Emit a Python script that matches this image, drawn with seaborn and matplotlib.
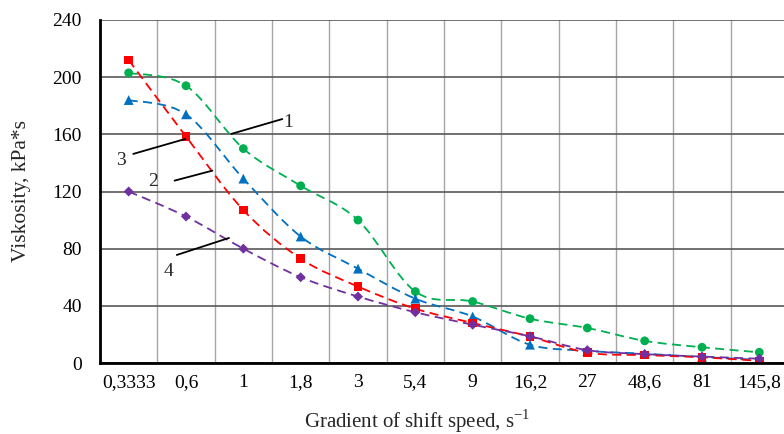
import numpy as np
import pandas as pd
import seaborn as sns
import matplotlib
matplotlib.use("Agg")
import matplotlib.pyplot as plt
from matplotlib.path import Path
from matplotlib.patches import PathPatch
from matplotlib.ticker import MultipleLocator

# data
shear_rates = ["0,3333", "0,6", "1", "1,8", "3", "5,4", "9", "16,2", "27", "48,6", "81", "145,8"]
curve_1 = [203, 194, 150, 124, 100, 50, 43, 31, 24.5, 15.5, 11, 7.5]
curve_2 = [184, 174, 129, 88.5, 66, 45, 32.5, 12.8, 8.5, 6.5, 4.2, 2.2]
curve_3 = [212, 158.5, 107, 73, 53.5, 38, 28, 18.5, 7.2, 5.5, 4, 1.5]
curve_4 = [120, 102.5, 80, 60, 46.5, 35.5, 26.8, 18.7, 9, 6.2, 4.5, 3]

series_names = ["1", "2", "3", "4"]
series_values = [curve_1, curve_2, curve_3, curve_4]
colors = {"1": "#00B050", "2": "#0070C0", "3": "#FF0000", "4": "#7030A0"}
markers = {"1": "o", "2": "^", "3": "s", "4": "D"}
sizes = {"1": 40, "2": 50, "3": 38, "4": 26}

rows = []
for name, vals in zip(series_names, series_values):
    for i, v in enumerate(vals):
        rows.append({"x": i, "rate": shear_rates[i], "visc": v, "curve": name})
df = pd.DataFrame(rows)

sns.set_style("white")
plt.rcParams["font.family"] = ["Liberation Serif", "DejaVu Serif"]
plt.rcParams["mathtext.fontset"] = "custom"
plt.rcParams["mathtext.rm"] = "Liberation Serif"

fig = plt.figure(figsize=(7.84, 4.34), dpi=100)
ax = fig.add_axes([100 / 784, 71 / 434, 688 / 784, 343 / 434])


def smooth_path(xs, ys):
    # Excel-style smoothed line: cubic Bezier segments (Catmull-Rom control points)
    pts = np.column_stack([xs, ys]).astype(float)
    n = len(pts)
    verts = [pts[0]]
    codes = [Path.MOVETO]
    for i in range(n - 1):
        p0 = pts[i - 1] if i > 0 else pts[i]
        p1 = pts[i]
        p2 = pts[i + 1]
        p3 = pts[i + 2] if i + 2 < n else pts[i + 1]
        c1 = p1 + (p2 - p0) / 6.0
        c2 = p2 - (p3 - p1) / 6.0
        verts += [c1, c2, p2]
        codes += [Path.CURVE4] * 3
    return Path(verts, codes)


for name in series_names:
    sub = df[df["curve"] == name]
    patch = PathPatch(smooth_path(sub["x"], sub["visc"]), facecolor="none",
                      edgecolor=colors[name], lw=1.3, linestyle=(0, (5, 3)), zorder=3)
    ax.add_patch(patch)

for name in series_names:
    sub = df[df["curve"] == name]
    sns.scatterplot(data=sub, x="x", y="visc", marker=markers[name], s=sizes[name],
                    color=colors[name], edgecolor="none", ax=ax, zorder=4, legend=False)

ax.set_xlim(-0.5, len(shear_rates) - 0.5)
ax.set_ylim(0, 240)
ax.set_xticks(range(len(shear_rates)))
ax.set_xticklabels(shear_rates)
ax.set_xticks(np.arange(-0.5, len(shear_rates), 1), minor=True)
ax.yaxis.set_major_locator(MultipleLocator(40))

ax.grid(which="major", axis="y", color="#595959", lw=1.2, zorder=1)
ax.grid(which="minor", axis="x", color="#A6A6A6", lw=1.0, zorder=1)
ax.set_axisbelow(True)

for s in ["top", "right"]:
    ax.spines[s].set_visible(False)
for s in ["left", "bottom"]:
    ax.spines[s].set_color("black")
    ax.spines[s].set_linewidth(2)
    ax.spines[s].set_zorder(5)

ax.tick_params(axis="both", which="both", length=0, labelsize=14, colors="black")
ax.tick_params(axis="y", pad=13)
ax.tick_params(axis="x", pad=8)

ax.set_xlabel("Gradient of shift speed, s$^{-1}$", fontsize=15)
ax.xaxis.set_label_coords((417 - 100) / 688, -(407 - 363) / 343)
ax.set_ylabel("Viskosity, kPa*s", fontsize=15.5)
ax.yaxis.set_label_coords(-(100 - 31) / 688, 0.5)

# curve number callouts
callouts = [
    ("1", (1.79, 160.3), (2.68, 170.7), (2.79, 168.6)),
    ("3", (0.08, 146.3), (0.99, 156.8), (-0.13, 141.4)),
    ("2", (0.80, 127.6), (1.46, 134.6), (0.42, 126.9)),
    ("4", (0.84, 75.6), (1.75, 87.5), (0.69, 63.9)),
]
for label, a, b, t in callouts:
    ax.plot([a[0], b[0]], [a[1], b[1]], color="black", lw=1.3, zorder=6)
    ax.text(t[0], t[1], label, fontsize=14, ha="center", va="center", zorder=6)

ax.set_title("")
plt.savefig("out.png", dpi=100)
